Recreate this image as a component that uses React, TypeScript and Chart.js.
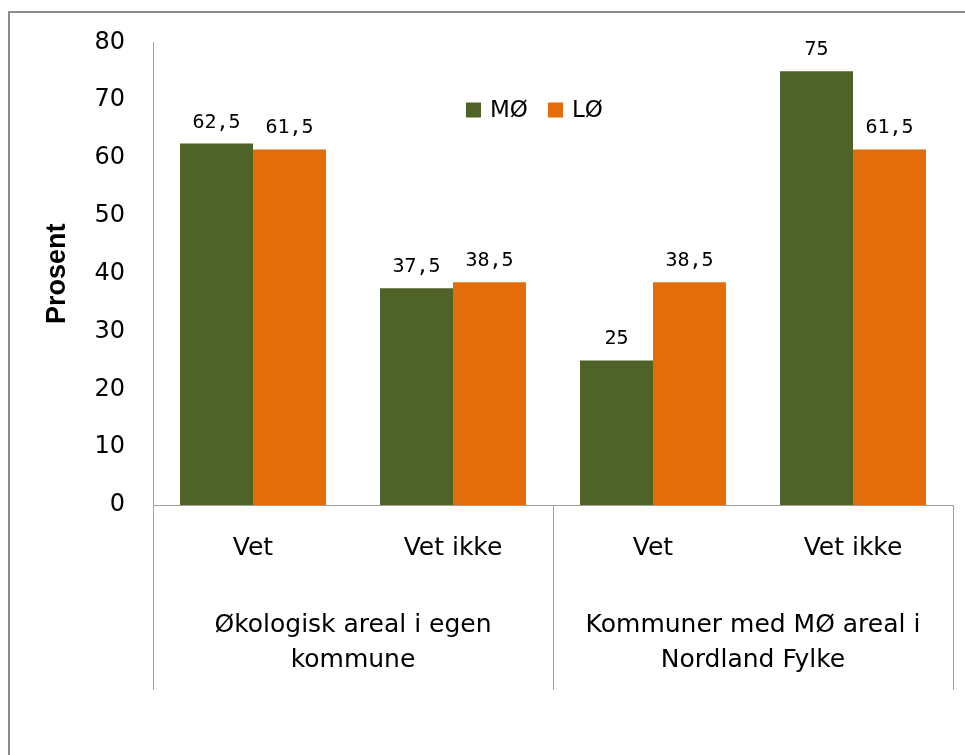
import React, { useEffect, useRef } from "react";
import { Chart, registerables } from "chart.js";

Chart.register(...registerables);

const categories = ["Vet", "Vet ikke", "Vet", "Vet ikke"];
const groupLabels = [
  ["Økologisk areal i egen", "kommune"],
  ["Kommuner med MØ areal i", "Nordland Fylke"],
];
const groupSpans = [2, 2];
const seriesNames = ["MØ", "LØ"];
const moValues = [62.5, 37.5, 25, 75];
const loValues = [61.5, 38.5, 38.5, 61.5];
const yMin = 0;
const yMax = 80;
const yStep = 10;
const yTitle = "Prosent";

const GREEN = "#4F6228";
const ORANGE = "#E46C0A";
const AXIS = "#a0a0a0";
const SANS = "'DejaVu Sans', sans-serif";

const decoPlugin = {
  id: "deco",
  beforeDraw(chart: any) {
    const ctx = chart.ctx;
    ctx.save();
    ctx.fillStyle = "#ffffff";
    ctx.fillRect(0, 0, chart.width, chart.height);
    ctx.strokeStyle = "#8c8c8c";
    ctx.lineWidth = 2;
    ctx.strokeRect(9, 12, 3000, 3000);
    ctx.restore();
  },
  afterDatasetsDraw(chart: any) {
    const ctx = chart.ctx;
    ctx.save();
    ctx.fillStyle = "#000";
    ctx.font = "20px 'DejaVu Sans Mono', monospace";
    ctx.textAlign = "center";
    ctx.textBaseline = "alphabetic";
    chart.data.datasets.forEach((ds: any, di: number) => {
      const meta = chart.getDatasetMeta(di);
      meta.data.forEach((bar: any, i: number) => {
        const v = ds.data[i];
        const txt = String(v).replace(".", ",");
        ctx.fillText(txt, bar.x, bar.y - 16);
      });
    });
    ctx.restore();
  },
  afterDraw(chart: any) {
    const ctx = chart.ctx;
    const xs = chart.scales.x;
    const n = categories.length;
    const w = (xs.right - xs.left) / n;
    const top = chart.chartArea.bottom;
    const bottom = 690;
    ctx.save();
    ctx.strokeStyle = AXIS;
    ctx.lineWidth = 1;
    let idx = 0;
    const bounds = [0];
    groupSpans.forEach((s) => {
      idx += s;
      bounds.push(idx);
    });
    bounds.forEach((b) => {
      const px = Math.round(xs.left + w * b) + 0.5;
      ctx.beginPath();
      ctx.moveTo(px, top);
      ctx.lineTo(px, bottom);
      ctx.stroke();
    });
    ctx.fillStyle = "#000";
    ctx.font = "25px " + SANS;
    ctx.textAlign = "center";
    ctx.textBaseline = "middle";
    groupLabels.forEach((lines, gi) => {
      const cx = xs.left + w * ((bounds[gi] + bounds[gi + 1]) / 2);
      lines.forEach((ln, li) => {
        ctx.fillText(ln, cx, 625 + li * 35);
      });
    });
    ctx.font = "23px " + SANS;
    ctx.textAlign = "left";
    const legendX = [466, 548];
    const legendY = 110;
    chart.data.datasets.forEach((ds: any, di: number) => {
      ctx.fillStyle = ds.backgroundColor;
      ctx.fillRect(legendX[di], legendY - 7.5, 15, 15);
      ctx.fillStyle = "#000";
      ctx.fillText(ds.label, legendX[di] + 24, legendY + 1);
    });
    ctx.restore();
  },
};

export default function App() {
  const ref = useRef<HTMLCanvasElement | null>(null);
  useEffect(() => {
    if (!ref.current) return;
    const chart = new Chart(ref.current, {
      type: "bar",
      data: {
        labels: categories,
        datasets: [
          { label: seriesNames[0], data: moValues, backgroundColor: GREEN, borderWidth: 0 },
          { label: seriesNames[1], data: loValues, backgroundColor: ORANGE, borderWidth: 0 },
        ],
      },
      options: {
        animation: false,
        responsive: false,
        devicePixelRatio: 1,
        layout: { padding: { left: 0, right: 12, top: 41, bottom: 0 } },
        plugins: {
          legend: { display: false },
          tooltip: { enabled: false },
        },
        datasets: {
          bar: { categoryPercentage: 0.73, barPercentage: 1 },
        },
        scales: {
          x: {
            offset: true,
            grid: { display: false, drawTicks: false },
            border: { display: true, color: AXIS, width: 1 },
            ticks: {
              color: "#000",
              font: { family: SANS, size: 25 },
              padding: 28,
              maxRotation: 0,
              autoSkip: false,
            },
            afterFit(scale: any) {
              scale.height = 250;
            },
          },
          y: {
            min: yMin,
            max: yMax,
            grid: { display: false, drawTicks: false },
            border: { display: true, color: AXIS, width: 1 },
            ticks: {
              stepSize: yStep,
              color: "#000",
              font: { family: SANS, size: 24 },
              padding: 28,
            },
            title: {
              display: true,
              text: yTitle,
              color: "#000",
              font: { family: "'Liberation Sans', sans-serif", size: 27, weight: "bold" },
              padding: { top: 41, bottom: 0 },
            },
            afterFit(scale: any) {
              scale.width = 153;
            },
          },
        },
      },
      plugins: [decoPlugin],
    } as any);
    return () => chart.destroy();
  }, []);
  return (
    <div style={{ position: "fixed", left: 0, top: 0, width: 965, height: 755, background: "#fff" }}>
      <canvas ref={ref} width={965} height={755} style={{ display: "block" }} />
    </div>
  );
}
